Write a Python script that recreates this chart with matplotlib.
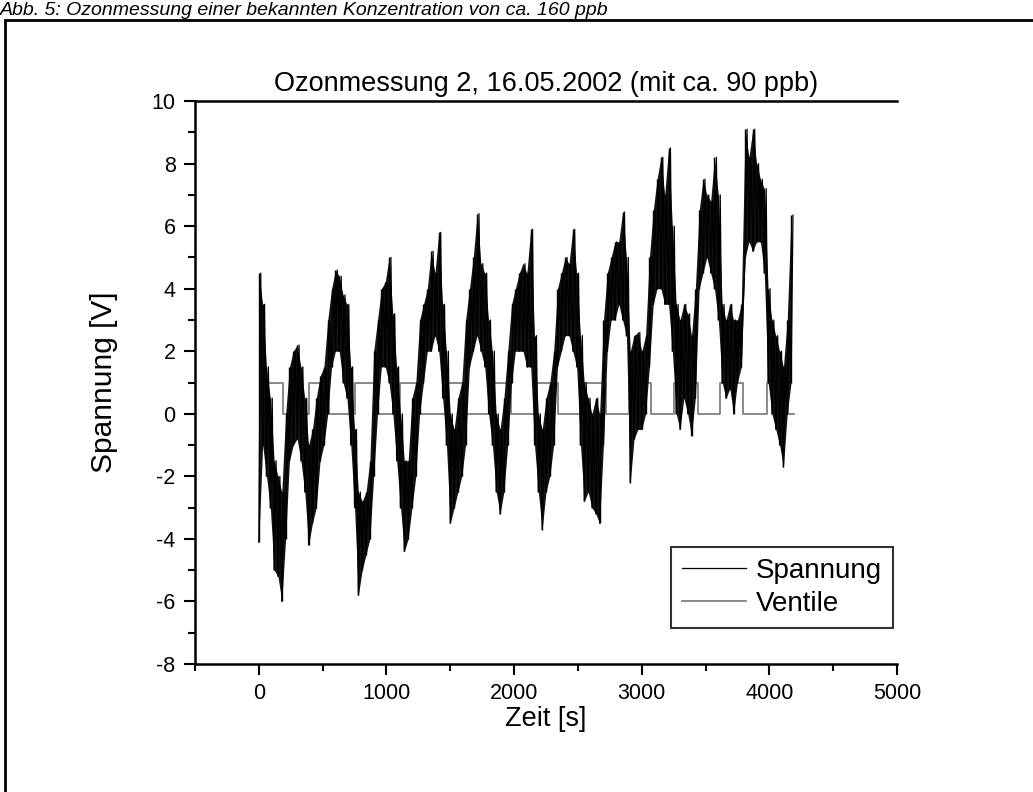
import matplotlib
matplotlib.use("Agg")
import matplotlib.pyplot as plt
from matplotlib.ticker import MultipleLocator
from matplotlib.patches import Rectangle

plt.rcParams['font.family'] = ['Liberation Sans', 'DejaVu Sans']
plt.rcParams['axes.unicode_minus'] = False

# ---- data ----
# Spannung: envelope of the noisy trace per 30 s bin (low, high)
sp_t = list(range(0, 4200, 30))
sp_lo = [-4.1, -1.0, -2.0, -3.0, -5.0, -5.2, -6.0, -4.0, -1.5, -1.0,
         -0.8, -1.5, -2.5, -4.2, -3.5, -3.0, -1.5, -1.0, 0.0, 1.5,
         2.0, 2.0, 1.0, 0.5, -1.0, -3.0, -5.8, -5.0, -4.5, -4.0,
         -2.0, 0.0, 1.5, 1.5, 1.0, 0.0, -1.5, -3.0, -4.4, -4.0,
         -3.0, -2.0, 0.0, 1.0, 2.0, 2.0, 2.5, 2.0, 0.5, -1.0,
         -3.5, -3.0, -2.5, -2.0, -1.0, 1.5, 2.0, 2.5, 2.0, 1.5,
         0.0, -1.0, -2.5, -3.2, -2.5, -1.0, 1.0, 2.0, 2.0, 2.0,
         1.5, 1.5, -1.0, -2.5, -3.7, -2.5, -2.0, -1.0, 1.5, 2.0,
         2.5, 2.5, 2.0, 1.5, -1.0, -2.8, -2.5, -3.0, -3.2, -3.5,
         -1.0, 2.0, 3.0, 3.0, 3.5, 3.0, 2.5, -2.2, -0.8, -0.5,
         -0.5, 0.0, 1.5, 3.5, 4.0, 4.0, 3.5, 3.5, 2.0, 0.0,
         -0.5, 0.5, 0.0, -0.7, 0.5, 4.0, 4.5, 5.0, 4.5, 4.0,
         3.0, 1.0, 0.5, 0.8, 0.0, 1.0, 1.5, 5.0, 5.5, 5.2,
         5.5, 5.5, 4.5, 1.0, 0.0, -0.5, -1.0, -1.7, 0.0, 1.0]
sp_hi = [4.5, 3.5, 1.5, 0.5, -1.5, -2.0, -2.5, 0.0, 1.5, 2.0,
         2.2, 1.5, 0.5, -1.0, -0.5, 0.5, 1.2, 1.5, 3.0, 4.0,
         4.6, 4.4, 3.8, 3.5, 1.5, -0.5, -2.5, -2.8, -2.5, -1.5,
         2.0, 3.0, 4.0, 4.2, 5.0, 3.2, 1.5, 0.0, -1.5, -1.5,
         0.5, 1.0, 3.0, 3.5, 4.0, 5.2, 4.5, 5.8, 3.5, 2.0,
         0.0, -0.5, 0.5, 1.0, 3.0, 4.0, 5.0, 6.4, 4.8, 4.5,
         3.0, 2.0, 0.0, -0.5, 0.5, 2.0, 3.5, 4.0, 4.5, 4.8,
         4.5, 5.9, 2.5, 0.0, -0.5, 0.5, 1.0, 2.0, 4.0, 4.5,
         5.0, 4.8, 5.9, 4.5, 2.5, 1.0, 0.5, 0.0, 0.5, 0.0,
         3.0, 4.5, 5.0, 5.5, 5.5, 6.45, 5.0, 2.0, 2.5, 2.6,
         2.0, 2.5, 5.0, 6.5, 7.5, 8.2, 7.0, 8.5, 6.0, 3.5,
         3.0, 3.5, 3.2, 2.5, 4.0, 6.5, 7.5, 7.0, 6.8, 8.2,
         7.0, 3.5, 3.0, 3.5, 3.0, 3.0, 3.5, 9.1, 8.2, 9.1,
         8.0, 7.5, 7.2, 4.0, 3.0, 2.5, 2.0, 1.5, 3.0, 6.35]

# Ventile: switching times and state after each switch
vent_t = [10, 188, 391, 547, 750, 906, 1109, 1266, 1469, 1625, 1805, 1977,
          2172, 2344, 2539, 2719, 2898, 3070, 3250, 3437, 3617, 3797,
          3984, 4148, 4190]
vent_v = [1, 0, 1, 0, 1, 0, 1, 0, 1, 0, 1, 0,
          1, 0, 1, 0, 1, 0, 1, 0, 1, 0,
          1, 0, 0]

title = "Ozonmessung 2, 16.05.2002 (mit ca. 90 ppb)"
caption = "Abb. 5: Ozonmessung einer bekannten Konzentration von ca. 160 ppb"

# zig-zag trace through the envelope
xs, ys = [], []
for t, lo, hi in zip(sp_t, sp_lo, sp_hi):
    xs += [t, t + 15]
    ys += [lo, hi]

fig = plt.figure(figsize=(10.33, 7.92), dpi=100)
ax = fig.add_axes([195/1033, 1-664/792, (897-195)/1033, (664-101)/792])

ax.fill_between(sp_t, sp_lo, sp_hi, color='#141414', lw=0, zorder=3)
ax.vlines(sp_t, sp_lo, sp_hi, color='black', lw=1.0, zorder=3)
ax.plot(xs, ys, color='black', lw=0.9, label='Spannung', zorder=3)
ax.plot(vent_t, vent_v, color='#808080', lw=1.3, drawstyle='steps-post',
        label='Ventile', zorder=2)

ax.set_xlim(-500, 5000)
ax.set_ylim(-8, 10)
ax.xaxis.set_major_locator(MultipleLocator(1000))
ax.xaxis.set_minor_locator(MultipleLocator(500))
ax.yaxis.set_major_locator(MultipleLocator(2))
ax.yaxis.set_minor_locator(MultipleLocator(1))
ax.tick_params(which='major', direction='out', length=8, width=1.5,
               labelsize=15.5, pad=6)
ax.tick_params(which='minor', direction='out', length=5, width=1.5)
ax.tick_params(top=False, right=False)
for s in ['left', 'bottom', 'top']:
    ax.spines[s].set_linewidth(1.8)
ax.spines['right'].set_visible(False)

ax.set_title(title, fontsize=19.5, pad=7)
ax.set_xlabel("Zeit [s]", fontsize=19.5, labelpad=1)
ax.set_ylabel("Spannung [V]", fontsize=21.5, labelpad=24)

leg = ax.legend(loc='lower right', bbox_to_anchor=(0.994, 0.064), fontsize=20,
                frameon=True, fancybox=False, handlelength=2.3,
                handletextpad=0.35, borderpad=0.4, labelspacing=0.25,
                borderaxespad=0)
leg.get_frame().set_edgecolor('black')
leg.get_frame().set_linewidth(1.5)
leg.legend_handles[0].set_linewidth(0.9)

# figure border and caption
fig.patches.append(Rectangle((5/1033, -0.01), 1.2, 1-20/792+0.01,
                             transform=fig.transFigure, fill=False,
                             edgecolor='black', lw=2))
fig.text(0.0, 1 - 15/792, caption, fontsize=14, style='italic',
         ha='left', va='baseline')

fig.savefig("out.png", dpi=100)
